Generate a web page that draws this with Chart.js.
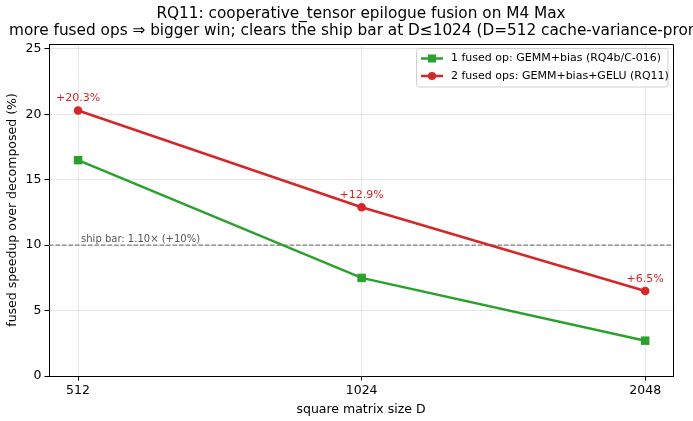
<!DOCTYPE html>
<html>
<head>
<meta charset="utf-8">
<script src="https://cdn.jsdelivr.net/npm/chart.js@4.4.1/dist/chart.umd.min.js"></script>
<style>
  html, body { margin: 0; padding: 0; background: #fff; }
  #wrap { width: 693px; height: 421px; }
</style>
</head>
<body>
<div id="wrap"><canvas id="rq11Chart"></canvas></div>
<script>
// data
const sizes = [512, 1024, 2048];
const oneFused = [16.5, 7.5, 2.7];
const twoFused = [20.3, 12.9, 6.5];
const twoFusedLabels = ["+20.3%", "+12.9%", "+6.5%"];
const yTicks = [0, 5, 10, 15, 20, 25];
const shipBar = 10;
const shipBarLabel = "ship bar: 1.10\u00d7 (+10%)";
const titleLines = [
    "RQ11: cooperative_tensor epilogue fusion on M4 Max",
    "more fused ops \u21d2 bigger win; clears the ship bar at D\u22641024 (D=512 cache-variance-prone)"
];
const seriesNames = ["1 fused op: GEMM+bias (RQ4b/C-016)", "2 fused ops: GEMM+bias+GELU (RQ11)"];

const GREEN = "#2ca02c";
const RED = "#d62728";
const FONT = "'DejaVu Sans', sans-serif";

const overlay = {
    id: "overlay",
    beforeDatasetsDraw(chart) {
        // dashed ship bar goes under the lines
        const { ctx, chartArea: a, scales: { x, y } } = chart;
        const yy = y.getPixelForValue(shipBar);
        ctx.save();
        ctx.strokeStyle = "#808080";
        ctx.lineWidth = 1.2;
        ctx.setLineDash([4.5, 2]);
        ctx.beginPath();
        ctx.moveTo(a.left, yy);
        ctx.lineTo(a.right, yy);
        ctx.stroke();
        ctx.setLineDash([]);
        ctx.fillStyle = "#555";
        ctx.font = "10px " + FONT;
        ctx.textBaseline = "alphabetic";
        ctx.fillText(shipBarLabel, x.getPixelForValue(sizes[0]) + 3, yy - 3);
        ctx.restore();
    },
    afterDraw(chart) {
        const { ctx, chartArea: a, scales: { x, y } } = chart;
        ctx.save();

        // top and right spines
        ctx.strokeStyle = "#000";
        ctx.lineWidth = 1;
        ctx.beginPath();
        ctx.moveTo(a.left, a.top + 0.5);
        ctx.lineTo(a.right + 0.5, a.top + 0.5);
        ctx.lineTo(a.right + 0.5, a.bottom);
        ctx.stroke();

        // two line title, centred over the axes
        const cx = (a.left + a.right) / 2;
        ctx.fillStyle = "#000";
        ctx.font = "15.3px " + FONT;
        ctx.textAlign = "center";
        ctx.textBaseline = "middle";
        ctx.fillText(titleLines[0], cx, 14);
        ctx.fillText(titleLines[1], cx, 31);

        // value labels above the red points
        ctx.fillStyle = RED;
        ctx.font = "11px " + FONT;
        ctx.textBaseline = "alphabetic";
        sizes.forEach((d, i) => {
            ctx.fillText(twoFusedLabels[i], x.getPixelForValue(d), y.getPixelForValue(twoFused[i]) - 9);
        });

        // legend box, upper right
        const bx = 416.5, by = 48.5, bw = 251.5, bh = 38.5;
        ctx.fillStyle = "rgba(255,255,255,0.8)";
        ctx.strokeStyle = "#d0d0d0";
        ctx.lineWidth = 1;
        ctx.beginPath();
        ctx.roundRect(bx, by, bw, bh, 3);
        ctx.fill();
        ctx.stroke();
        const rows = [
            { name: seriesNames[0], color: GREEN, style: "rect" },
            { name: seriesNames[1], color: RED, style: "circle" }
        ];
        ctx.textAlign = "left";
        ctx.textBaseline = "middle";
        ctx.font = "11px " + FONT;
        rows.forEach((r, i) => {
            const ry = 58.5 + i * 17.5;
            ctx.strokeStyle = r.color;
            ctx.fillStyle = r.color;
            ctx.lineWidth = 2.5;
            ctx.beginPath();
            ctx.moveTo(421, ry);
            ctx.lineTo(443, ry);
            ctx.stroke();
            if (r.style === "rect") {
                ctx.fillRect(432 - 4, ry - 4, 8, 8);
            } else {
                ctx.beginPath();
                ctx.arc(432, ry, 4.1, 0, Math.PI * 2);
                ctx.fill();
            }
            ctx.fillStyle = "#000";
            ctx.fillText(r.name, 451, ry);
        });
        ctx.restore();
    }
};

new Chart(document.getElementById("rq11Chart"), {
    type: "line",
    data: {
        datasets: [
            {
                label: seriesNames[0],
                data: sizes.map((d, i) => ({ x: d, y: oneFused[i] })),
                borderColor: GREEN,
                backgroundColor: GREEN,
                borderWidth: 2.5,
                pointStyle: "rect",
                pointRadius: 6,
                pointBorderWidth: 0
            },
            {
                label: seriesNames[1],
                data: sizes.map((d, i) => ({ x: d, y: twoFused[i] })),
                borderColor: RED,
                backgroundColor: RED,
                borderWidth: 2.5,
                pointStyle: "circle",
                pointRadius: 4.3,
                pointBorderWidth: 0
            }
        ]
    },
    options: {
        responsive: true,
        maintainAspectRatio: false,
        animation: false,
        devicePixelRatio: 1,
        layout: { padding: { top: 44, right: 20, left: 0, bottom: 0 } },
        plugins: {
            legend: { display: false },
            title: { display: false },
            tooltip: { enabled: false }
        },
        scales: {
            x: {
                type: "logarithmic",
                min: 476.9,
                max: 2192,
                afterBuildTicks: s => { s.ticks = sizes.map(v => ({ value: v })); },
                afterFit: s => { s.height = 45; },
                ticks: {
                    color: "#000",
                    font: { family: FONT, size: 12.5 },
                    padding: 3,
                    autoSkip: false,
                    maxRotation: 0,
                    callback: v => String(v)
                },
                grid: { color: "rgba(176,176,176,0.3)", tickColor: "#000", tickLength: 4.5 },
                border: { color: "#000", width: 1 },
                title: {
                    display: true,
                    text: "square matrix size D",
                    color: "#000",
                    font: { family: FONT, size: 12.5 },
                    padding: { top: 2, bottom: 4 }
                }
            },
            y: {
                min: 0,
                max: 25.38,
                afterBuildTicks: s => { s.ticks = yTicks.map(v => ({ value: v })); },
                afterFit: s => { s.width = 49; },
                ticks: {
                    color: "#000",
                    font: { family: FONT, size: 12.5 },
                    padding: 3
                },
                grid: { color: "rgba(176,176,176,0.3)", tickColor: "#000", tickLength: 4.5 },
                border: { color: "#000", width: 1 },
                title: {
                    display: true,
                    text: "fused speedup over decomposed (%)",
                    color: "#000",
                    font: { family: FONT, size: 12.5 },
                    padding: { top: 5, bottom: 2 }
                }
            }
        }
    },
    plugins: [overlay]
});
</script>
</body>
</html>
